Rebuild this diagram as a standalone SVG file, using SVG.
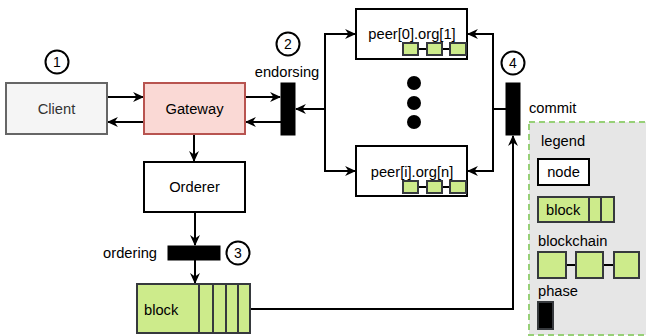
<svg xmlns="http://www.w3.org/2000/svg" width="646" height="336" viewBox="0 0 646 336">
<style>
text{font-family:"Liberation Sans",Arial,Helvetica,sans-serif;font-size:14.7px;fill:#000}
.c{text-anchor:middle}
.n{font-size:14px}
.node{fill:#fff;stroke:#000;stroke-width:2}
.blk{fill:#cdeb8b;stroke:#36393d;stroke-width:2}
.bar{fill:#000;stroke:#000;stroke-width:1}
.num{fill:#fff;stroke:#000;stroke-width:2}
.con{fill:none;stroke:#000;stroke-width:2}
</style>
<defs>
<marker id="ah" viewBox="0 0 10 10" refX="9" refY="5" markerWidth="11" markerHeight="11" markerUnits="userSpaceOnUse" orient="auto">
<path d="M0,0.5 L10,5 L0,9.5 L3,5 Z" fill="#000"/>
</marker>
</defs>
<rect width="646" height="336" fill="#fff"/>

<g id="legend">
<rect x="529" y="122" width="126" height="213" fill="#e6e6e6" stroke="#97d077" stroke-width="2" stroke-dasharray="6 4"/>
<text x="541" y="146">legend</text>
<rect class="node" x="538" y="159" width="51" height="26"/>
<text class="c" x="563.5" y="177">node</text>
<rect class="blk" x="538" y="197" width="51" height="25"/>
<rect class="blk" x="589" y="197" width="12" height="25"/>
<rect class="blk" x="601" y="197" width="13" height="25"/>
<text x="546" y="215">block</text>
<text x="538" y="246">blockchain</text>
<line x1="566" y1="265" x2="614" y2="265" stroke="#000" stroke-width="2"/>
<rect class="blk" x="538" y="252" width="28" height="26"/>
<rect class="blk" x="576" y="252" width="27" height="26"/>
<rect class="blk" x="614" y="252" width="25" height="26"/>
<text x="538" y="296">phase</text>
<rect x="538" y="302" width="15" height="27" fill="#000" stroke="#36393d" stroke-width="2"/>
</g>

<g id="connectors">
<path class="con" d="M107,97 L143,97" marker-end="url(#ah)"/>
<path class="con" d="M144,122 L108,122" marker-end="url(#ah)"/>
<path class="con" d="M245,97 L280,97" marker-end="url(#ah)"/>
<path class="con" d="M281,122 L246,122" marker-end="url(#ah)"/>
<path class="con" d="M194,134 L194,161" marker-end="url(#ah)"/>
<path class="con" d="M325,109 L296,109" marker-end="url(#ah)"/>
<path class="con" d="M325,109 L325,34 L355,34" marker-end="url(#ah)"/>
<path class="con" d="M325,109 L325,171 L355,171" marker-end="url(#ah)"/>
<path class="con" d="M506,109 L493,109 L493,34 L468,34" marker-end="url(#ah)"/>
<path class="con" d="M493,109 L493,171 L468,171" marker-end="url(#ah)"/>
<path class="con" d="M195,212 L195,245" marker-end="url(#ah)"/>
<path class="con" d="M195,260 L195,283" marker-end="url(#ah)"/>
<path class="con" d="M250,309 L513,309 L513,136" marker-end="url(#ah)"/>
</g>

<g id="client">
<rect x="6" y="83" width="101" height="51" fill="#f5f5f5" stroke="#666" stroke-width="2"/>
<text class="c" x="56.5" y="114" style="fill:#333">Client</text>
</g>
<g id="step1">
<circle class="num" cx="57" cy="62" r="11.5"/>
<text class="c n" x="57" y="67">1</text>
</g>

<g id="gateway">
<rect x="144" y="83" width="101" height="51" fill="#fad9d5" stroke="#b85450" stroke-width="2"/>
<text class="c" x="194.5" y="114">Gateway</text>
</g>

<g id="endorsing">
<rect class="bar" x="281" y="83" width="14" height="52"/>
<text class="c" x="287" y="77">endorsing</text>
</g>
<g id="step2">
<circle class="num" cx="288" cy="44" r="11.5"/>
<text class="c n" x="288" y="49">2</text>
</g>

<g id="orderer">
<rect class="node" x="144" y="162" width="101" height="50"/>
<text class="c" x="194.5" y="192">Orderer</text>
</g>

<g id="ordering">
<rect class="bar" x="168" y="246" width="52" height="14"/>
<text x="157" y="258" text-anchor="end">ordering</text>
</g>
<g id="step3">
<circle class="num" cx="238" cy="253" r="11.5"/>
<text class="c n" x="238" y="258">3</text>
</g>

<g id="block">
<rect class="blk" x="137" y="284" width="62" height="49"/>
<rect class="blk" x="199" y="284" width="14" height="49"/>
<rect class="blk" x="213" y="284" width="13" height="49"/>
<rect class="blk" x="226" y="284" width="12" height="49"/>
<rect class="blk" x="238" y="284" width="12" height="49"/>
<text x="144" y="315">block</text>
</g>

<g id="peer0">
<rect class="node" x="356" y="9" width="111" height="50"/>
<text class="c" x="412" y="39">peer[0].org[1]</text>
<line x1="418" y1="49" x2="450" y2="49" stroke="#000" stroke-width="2"/>
<rect class="blk" x="403" y="43" width="15" height="12"/>
<rect class="blk" x="427" y="43" width="15" height="12"/>
<rect class="blk" x="450" y="43" width="16" height="12"/>
</g>

<g id="dots">
<circle cx="414" cy="83" r="7" fill="#000"/>
<circle cx="414" cy="103" r="7" fill="#000"/>
<circle cx="414" cy="122" r="7" fill="#000"/>
</g>

<g id="peerI">
<rect class="node" x="356" y="146" width="111" height="50"/>
<text class="c" x="412" y="177">peer[i].org[n]</text>
<line x1="418" y1="187" x2="450" y2="187" stroke="#000" stroke-width="2"/>
<rect class="blk" x="403" y="181" width="15" height="12"/>
<rect class="blk" x="427" y="181" width="15" height="12"/>
<rect class="blk" x="450" y="181" width="16" height="12"/>
</g>

<g id="commit">
<rect class="bar" x="506" y="83" width="14" height="52"/>
<text x="529" y="113">commit</text>
</g>
<g id="step4">
<circle class="num" cx="513" cy="63" r="11.5"/>
<text class="c n" x="513" y="68">4</text>
</g>
</svg>
